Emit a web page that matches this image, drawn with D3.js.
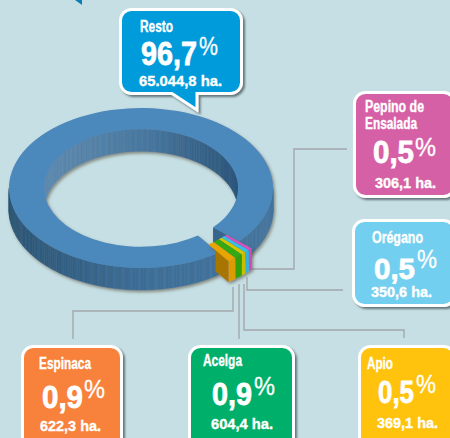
<!DOCTYPE html>
<html>
<head>
<meta charset="utf-8">
<script src="https://cdn.jsdelivr.net/npm/d3@7"></script>
<style>
html, body { margin: 0; padding: 0; background: #c6dfe4; overflow: hidden; }
svg { display: block; }
text { font-family: "Liberation Sans Narrow", "Liberation Sans", sans-serif; font-weight: bold; fill: #fff; }
</style>
</head>
<body>
<div id="chart"></div>
<script>
// clockwise from the gap in the ring
var categories = ['Pepino de Ensalada', 'Orégano', 'Apio', 'Acelga', 'Espinaca', 'Resto'];
var hectares = [306.1, 350.6, 369.1, 604.4, 622.3, 65044.8];
var percentLabels = ['0,5', '0,5', '0,5', '0,9', '0,9', '96,7'];
var hectareLabels = ['306,1 ha.', '350,6 ha.', '369,1 ha.', '604,4 ha.', '622,3 ha.', '65.044,8 ha.'];

var boxColors = ['#d660a6', '#73cff0', '#ffc20e', '#00b06b', '#f8813a', '#009bdb'];
var sliceColors = ['#d84fc0', '#35bee6', '#d6c600', '#35a812', '#e8a400', '#4b88bb'];

// box layout, same order as categories
var boxLayout = [
	{x0: 353, x1: 456, y0: 91, y1: 198, title: [[365, 112, 59, 'Pepino de'], [365, 129, 52, 'Ensalada']], big: [373, 163, 41, 32], pct: [415, 156, 21], ha: [375, 188, 61]},
	{x0: 352, x1: 456, y0: 219, y1: 307, title: [[372, 243, 51, 'Orégano']], big: [374, 279, 41, 30], pct: [417, 268, 20], ha: [371, 297, 61]},
	{x0: 358, x1: 456, y0: 345, y1: 450, title: [[367, 369, 26, 'Apio']], big: [378, 403, 36, 32], pct: [416, 393, 20], ha: [377, 428, 61]},
	{x0: 188, x1: 295, y0: 345, y1: 450, title: [[203, 366, 39, 'Acelga']], big: [212, 405, 40, 32], pct: [254, 395, 21], ha: [211, 429, 62]},
	{x0: 21, x1: 123, y0: 345, y1: 450, title: [[39, 369, 52, 'Espinaca']], big: [42, 408, 41, 32], pct: [84, 398, 21], ha: [40, 431, 61]},
	{x0: 119, x1: 243, y0: 8, y1: 95, title: [[140, 32, 33, 'Resto']], big: [141, 65, 56, 34], pct: [199, 55, 19], ha: [139, 86, 83], tail: [172, 197, 110]}
];

var leaders = [
	[[252, 269], [294, 269], [294, 149], [347, 149]],
	[[247, 277], [247, 290], [343, 290]],
	[[244, 284], [244, 330], [404, 330], [404, 338]],
	[[239, 284], [239, 339]],
	[[233, 287], [233, 311], [73, 311], [73, 339]]
];

var width = 450, height = 438;
var cx = 141, cy = 188, squash = 0.606;
var rInner = 97, rOuter = 132, depth = 22;
var sliceOut = 17, sliceDepth = 21;
var toRad = Math.PI / 180;

var svg = d3.select('#chart').append('svg')
	.attr('width', width)
	.attr('height', height);

var defs = svg.append('defs');
defs.append('filter').attr('id', 'ringShadow')
	.attr('x', '-10%').attr('y', '-10%').attr('width', '120%').attr('height', '120%')
	.append('feDropShadow')
	.attr('dx', 1.5).attr('dy', 2).attr('stdDeviation', 1.5)
	.attr('flood-color', '#54503a').attr('flood-opacity', 0.6);
defs.append('filter').attr('id', 'boxShadow')
	.attr('x', '-10%').attr('y', '-10%').attr('width', '120%').attr('height', '120%')
	.append('feDropShadow')
	.attr('dx', 2).attr('dy', 2).attr('stdDeviation', 1)
	.attr('flood-color', '#4a5a5e').attr('flood-opacity', 0.8);

svg.append('rect')
	.attr('width', width).attr('height', height)
	.attr('fill', '#c6dfe4');

// corner of the page header
svg.append('path')
	.attr('d', d3.line()([[75, 0], [82, 0], [82, 5]]))
	.attr('fill', '#0f7db5');

var pie = d3.pie().sort(null)
	.startAngle(132 * toRad)
	.endAngle(492 * toRad);
var slices = pie(hectares);

function pt(r, a, drop) {
	return [cx + r * Math.sin(a), cy - r * squash * Math.cos(a) + (drop || 0)];
}

function quad(r0, a0, r1, a1, d) {
	return d3.line()([pt(r0, a0), pt(r1, a1), pt(r1, a1, d), pt(r0, a0, d)]) + 'Z';
}

function sweep(r, a0, a1, d) {
	var n = Math.max(2, Math.ceil((a1 - a0) / (1 * toRad)));
	var pts = d3.range(n + 1).map(function(i) { return pt(r, a0 + (a1 - a0) * i / n); });
	var low = d3.range(n, -1, -1).map(function(i) { return pt(r, a0 + (a1 - a0) * i / n, d); });
	return d3.line()(pts.concat(low)) + 'Z';
}

var innerWallColor = d3.scaleLinear().domain([-1, 0, 1]).range(['#5f8bb0', '#4a789e', '#2a557a']);
var outerWallColor = d3.scaleLinear().domain([-1, 0, 1]).range(['#2b5575', '#3d6d95', '#44759e']);

var ring = svg.append('g').attr('filter', 'url(#ringShadow)');
var rest = slices[5];

// walls of the big slice, thin strips like the original
var step = 1.2 * toRad;
var strips = d3.range(rest.startAngle, rest.endAngle - 0.001, step);

ring.selectAll('path.inner')
	.data(strips.filter(function(a) { return Math.cos(a + step / 2) > 0; }))
	.enter().append('path')
	.attr('class', 'inner')
	.attr('d', function(a) { return quad(rInner, a, rInner, a + step, depth); })
	.attr('fill', function(a, i) {
		var c = d3.color(innerWallColor(Math.sin(a)));
		return i % 3 == 0 ? c.brighter(0.12) : c;
	})
	.attr('stroke', function(a) { return innerWallColor(Math.sin(a)); })
	.attr('stroke-width', 0.4);

ring.selectAll('path.outer')
	.data(strips.filter(function(a) { return Math.cos(a + step / 2) < 0; }))
	.enter().append('path')
	.attr('class', 'outer')
	.attr('d', function(a) { return quad(rOuter, a, rOuter, a + step, depth); })
	.attr('fill', function(a, i) {
		var c = d3.color(outerWallColor(Math.sin(a)));
		return i % 3 == 0 ? c.brighter(0.15) : c;
	})
	.attr('stroke', function(a) { return outerWallColor(Math.sin(a)); })
	.attr('stroke-width', 0.4);

// cut end of the ring, visible on the right side of the gap
ring.append('path')
	.attr('d', quad(rInner, rest.endAngle, rOuter, rest.endAngle, depth))
	.attr('fill', '#36658c');

var arc = d3.arc().innerRadius(rInner).outerRadius(rOuter);
ring.append('path')
	.attr('transform', 'translate(' + cx + ',' + cy + ') scale(1,' + squash + ')')
	.attr('d', arc(rest))
	.attr('fill', sliceColors[5]);

// leader lines go under the small block
svg.selectAll('path.leader')
	.data(leaders)
	.enter().append('path')
	.attr('class', 'leader')
	.attr('d', d3.line())
	.attr('fill', 'none')
	.attr('stroke', '#a3a8ab')
	.attr('stroke-width', 1.4);

// small slices, pulled out of the ring
var block = svg.append('g').attr('filter', 'url(#ringShadow)');
var bIn = rInner + sliceOut + 1, bOut = rOuter + sliceOut;
var smallSlices = slices.slice(0, 5);

block.selectAll('path.wall')
	.data(smallSlices)
	.enter().append('path')
	.attr('class', 'wall')
	.attr('d', function(d) { return sweep(bOut, d.startAngle, d.endAngle, sliceDepth); })
	.attr('fill', function(d, i) { return d3.color(sliceColors[i]).darker(0.15); });

// cut face of the last small slice
var last = smallSlices[4];
block.append('path')
	.attr('d', quad(bIn + 12, last.endAngle, bOut, last.endAngle, sliceDepth))
	.attr('fill', '#a87500');

var blockArc = d3.arc().innerRadius(bIn).outerRadius(bOut);
block.selectAll('path.top')
	.data(smallSlices)
	.enter().append('path')
	.attr('class', 'top')
	.attr('transform', 'translate(' + cx + ',' + cy + ') scale(1,' + squash + ')')
	.attr('d', blockArc)
	.attr('fill', function(d, i) { return sliceColors[i]; });

// label boxes
function boxPath(b) {
	var r = 11, p = d3.path();
	var x0 = b.x0 + 1.5, x1 = b.x1 - 1.5, y0 = b.y0 + 1.5, y1 = b.y1 - 1.5;
	p.moveTo(x0 + r, y0);
	p.lineTo(x1 - r, y0);
	p.arcTo(x1, y0, x1, y0 + r, r);
	p.lineTo(x1, y1 - r);
	p.arcTo(x1, y1, x1 - r, y1, r);
	if (b.tail) {
		p.lineTo(b.tail[1], y1);
		p.lineTo(b.tail[1], b.tail[2]);
		p.lineTo(b.tail[0], y1);
	}
	p.lineTo(x0 + r, y1);
	p.arcTo(x0, y1, x0, y1 - r, r);
	p.lineTo(x0, y0 + r);
	p.arcTo(x0, y0, x0 + r, y0, r);
	p.closePath();
	return p.toString();
}

function fitted(g, x, y, len, size, str, heavy) {
	return g.append('text')
		.attr('x', x).attr('y', y)
		.attr('textLength', len)
		.attr('lengthAdjust', 'spacingAndGlyphs')
		.attr('font-size', size)
		.attr('stroke', '#fff')
		.attr('stroke-width', heavy)
		.text(str);
}

categories.forEach(function(name, i) {
	var b = boxLayout[i];
	var g = svg.append('g').attr('class', 'box');
	g.append('path')
		.attr('d', boxPath(b))
		.attr('fill', boxColors[i])
		.attr('stroke', '#fff')
		.attr('stroke-width', 3)
		.attr('filter', 'url(#boxShadow)');
	b.title.forEach(function(t) {
		fitted(g, t[0], t[1], t[2], 16, t[3], 0.35);
	});
	fitted(g, b.big[0], b.big[1], b.big[2], b.big[3], percentLabels[i], 0.8);
	fitted(g, b.pct[0], b.pct[1], b.pct[2], 26, '%', 0.3).style('font-weight', 'normal');
	fitted(g, b.ha[0], b.ha[1], b.ha[2], 15, hectareLabels[i], 0.35);
});
</script>
</body>
</html>
